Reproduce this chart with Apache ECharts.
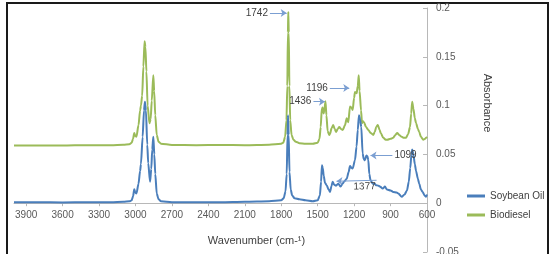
<!DOCTYPE html>
<html>
<head>
<meta charset="utf-8">
<script src="https://cdn.jsdelivr.net/npm/echarts@6.0.0/dist/echarts.min.js"></script>
<style>
  html, body { margin: 0; padding: 0; background: #fff; }
  #chart { width: 553px; height: 254px; }
</style>
</head>
<body>
<div id="chart"></div>
<script>
// wavenumber (cm-1) / absorbance
const soyWn = [4000, 3800, 3600, 3400, 3200, 3100, 3050, 3031, 3020, 3010, 3002, 2992, 2975, 2962, 2955, 2941, 2930, 2922, 2914, 2903, 2895, 2880, 2870, 2862, 2853, 2845, 2837, 2825, 2810, 2790, 2700, 2500, 2300, 2100, 1900, 1800, 1780, 1765, 1755, 1748, 1744, 1739, 1732, 1722, 1710, 1690, 1650, 1600, 1540, 1500, 1482, 1472, 1465, 1458, 1450, 1440, 1426, 1410, 1399, 1385, 1377, 1365, 1349, 1330, 1311, 1295, 1283, 1261, 1245, 1234, 1220, 1212, 1193, 1180, 1170, 1160, 1150, 1141, 1130, 1120, 1111, 1099, 1090, 1083, 1075, 1065, 1047, 1030, 1020, 1000, 987, 965, 946, 930, 900, 878, 850, 836, 808, 785, 765, 750, 738, 728, 722, 712, 700, 690, 675, 664, 650, 636, 620, 608, 600];
const soyAbs = [0.001, 0.001, 0.0008, 0.001, 0.001, 0.0015, 0.002, 0.003, 0.007, 0.0144, 0.011, 0.010, 0.02, 0.033, 0.040, 0.068, 0.095, 0.104, 0.095, 0.06, 0.041, 0.022, 0.035, 0.055, 0.068, 0.05, 0.030, 0.01, 0.004, 0.002, 0.001, 0.001, 0.001, 0.0015, 0.002, 0.003, 0.005, 0.012, 0.03, 0.07, 0.09, 0.07, 0.032, 0.014, 0.008, 0.005, 0.004, 0.003, 0.002, 0.003, 0.008, 0.022, 0.039, 0.036, 0.028, 0.021, 0.0185, 0.014, 0.0116, 0.018, 0.022, 0.019, 0.018, 0.020, 0.017, 0.020, 0.022, 0.025, 0.032, 0.038, 0.036, 0.0356, 0.044, 0.058, 0.075, 0.090, 0.085, 0.078, 0.051, 0.045, 0.044, 0.049, 0.048, 0.044, 0.03, 0.0236, 0.020, 0.020, 0.0185, 0.018, 0.017, 0.015, 0.017, 0.014, 0.013, 0.0116, 0.011, 0.010, 0.0065, 0.009, 0.013, 0.022, 0.036, 0.050, 0.055, 0.050, 0.040, 0.033, 0.025, 0.020, 0.014, 0.0116, 0.008, 0.0065, 0.009];

const bioWn = [4000, 3800, 3600, 3400, 3200, 3100, 3050, 3031, 3020, 3010, 3002, 2992, 2975, 2962, 2955, 2945, 2935, 2925, 2918, 2910, 2900, 2885, 2875, 2866, 2853, 2846, 2837, 2825, 2810, 2790, 2700, 2500, 2300, 2100, 1900, 1800, 1783, 1768, 1757, 1750, 1745, 1742, 1738, 1733, 1726, 1715, 1700, 1680, 1650, 1600, 1540, 1500, 1485, 1475, 1466, 1459, 1452, 1446, 1436, 1428, 1418, 1405, 1399, 1385, 1372, 1360, 1349, 1335, 1322, 1308, 1294, 1275, 1261, 1248, 1234, 1222, 1212, 1200, 1193, 1179, 1170, 1162, 1155, 1143, 1135, 1127, 1119, 1102, 1083, 1064, 1042, 1030, 1018, 1005, 990, 981, 960, 940, 927, 900, 878, 860, 845, 830, 808, 790, 773, 755, 740, 730, 722, 712, 700, 690, 675, 664, 650, 631, 615, 608, 600];
const bioAbs = [0.059, 0.0592, 0.059, 0.0595, 0.0595, 0.060, 0.0605, 0.062, 0.066, 0.072, 0.069, 0.068, 0.080, 0.095, 0.100, 0.110, 0.14, 0.166, 0.16, 0.135, 0.10, 0.082, 0.086, 0.105, 0.131, 0.115, 0.09, 0.07, 0.063, 0.061, 0.0597, 0.0595, 0.0597, 0.0595, 0.060, 0.061, 0.062, 0.068, 0.085, 0.12, 0.175, 0.196, 0.175, 0.12, 0.085, 0.07, 0.065, 0.063, 0.0615, 0.061, 0.061, 0.062, 0.066, 0.078, 0.097, 0.098, 0.092, 0.094, 0.1045, 0.09, 0.074, 0.070, 0.071, 0.077, 0.080, 0.076, 0.073, 0.076, 0.078, 0.076, 0.075, 0.08, 0.087, 0.083, 0.099, 0.098, 0.0955, 0.108, 0.114, 0.1126, 0.12, 0.131, 0.115, 0.095, 0.082, 0.084, 0.083, 0.078, 0.075, 0.072, 0.070, 0.073, 0.078, 0.080, 0.075, 0.072, 0.067, 0.065, 0.065, 0.066, 0.067, 0.070, 0.072, 0.070, 0.068, 0.067, 0.067, 0.071, 0.078, 0.092, 0.104, 0.097, 0.087, 0.082, 0.076, 0.073, 0.068, 0.065, 0.066, 0.067, 0.068];

const xTicks = [3900, 3600, 3300, 3000, 2700, 2400, 2100, 1800, 1500, 1200, 900, 600];

// peak callouts: label, arrow start [wn, abs], arrow end [wn, abs]
const peakNames = ['1742', '1436', '1196', '1099', '1377'];
const arrowFrom = [[1893, 0.195], [1535, 0.104], [1400, 0.118], [885, 0.049], [1015, 0.0235]];
const arrowTo = [[1755, 0.195], [1440, 0.104], [1240, 0.118], [1065, 0.049], [1345, 0.0225]];

const zip = (xs, ys) => xs.map((x, i) => [x, ys[i]]);

const chart = echarts.init(document.getElementById('chart'), null, { renderer: 'canvas' });

const callouts = peakNames.map((name, i) => {
  const start = { coord: arrowFrom[i], name: name };
  if (name === '1377') start.label = { position: 'insideStartBottom', distance: 1 };
  return [start, { coord: arrowTo[i] }];
});

const font = 'Liberation Sans';
const gridTop = 8, gridBottom = 2, yMin = -0.05, yMax = 0.2;
// lift the x axis from the grid bottom up to absorbance 0
const plotH = 254 - gridTop - gridBottom;
const zeroOffset = -plotH * (0 - yMin) / (yMax - yMin);

chart.setOption({
  animation: false,
  textStyle: { fontFamily: font },
  grid: { left: 14, right: 126, top: gridTop, bottom: gridBottom, outerBoundsMode: 'none', containLabel: false },
  legend: {
    data: ['Soybean Oil', 'Biodiesel'],
    orient: 'vertical',
    left: 467,
    top: 191,
    padding: 0,
    icon: 'rect',
    itemWidth: 18,
    itemHeight: 3,
    itemGap: 9,
    textStyle: { fontSize: 10, color: '#404040', fontFamily: font }
  },
  xAxis: {
    type: 'value',
    min: 600,
    max: 4000,
    inverse: true,
    offset: zeroOffset,
    name: 'Wavenumber (cm-¹)',
    nameLocation: 'middle',
    nameGap: 32,
    nameTextStyle: { fontSize: 11, color: '#404040', padding: [0, 0, 0, 72] },
    axisLine: { onZero: false, lineStyle: { color: '#b8b8b8', width: 1 } },
    axisTick: { show: true, length: 3, customValues: xTicks, lineStyle: { color: '#b8b8b8' } },
    axisLabel: { customValues: xTicks, margin: 7, fontSize: 10, color: '#595959', formatter: v => String(v) },
    splitLine: { show: false }
  },
  yAxis: {
    type: 'value',
    position: 'right',
    min: yMin,
    max: yMax,
    interval: 0.05,
    axisLine: { show: true, lineStyle: { color: '#b8b8b8', width: 1 } },
    axisTick: { show: true, inside: true, length: 4, lineStyle: { color: '#b8b8b8' } },
    axisLabel: { margin: 9, fontSize: 10, color: '#595959' },
    splitLine: { show: false }
  },
  graphic: [
    {
      type: 'rect',
      silent: true,
      shape: { x: 7, y: 3, width: 541, height: 262 },
      style: { fill: 'none', stroke: '#1a1a1a', lineWidth: 2 }
    },
    {
      type: 'text',
      x: 487,
      y: 103,
      rotation: -Math.PI / 2,
      style: {
        text: 'Absorbance',
        fill: '#404040',
        font: '11px "' + font + '"',
        align: 'center',
        verticalAlign: 'middle'
      }
    }
  ],
  series: [
    {
      name: 'Biodiesel',
      type: 'line',
      data: zip(bioWn, bioAbs),
      showSymbol: false,
      smooth: 0.25,
      smoothMonotone: 'x',
      lineStyle: { color: '#9bbb59', width: 2 },
      itemStyle: { color: '#9bbb59' }
    },
    {
      name: 'Soybean Oil',
      type: 'line',
      data: zip(soyWn, soyAbs),
      showSymbol: false,
      smooth: 0.25,
      smoothMonotone: 'x',
      lineStyle: { color: '#4a7ebb', width: 2 },
      itemStyle: { color: '#4a7ebb' },
      markLine: {
        silent: true,
        symbol: ['none', 'arrow'],
        symbolSize: 6,
        lineStyle: { color: '#7b9fd2', width: 1, type: 'solid' },
        label: {
          show: true,
          position: 'start',
          formatter: '{b}',
          distance: 2,
          fontSize: 10,
          color: '#404040'
        },
        emphasis: { disabled: true },
        data: callouts
      }
    }
  ]
});
</script>
</body>
</html>
